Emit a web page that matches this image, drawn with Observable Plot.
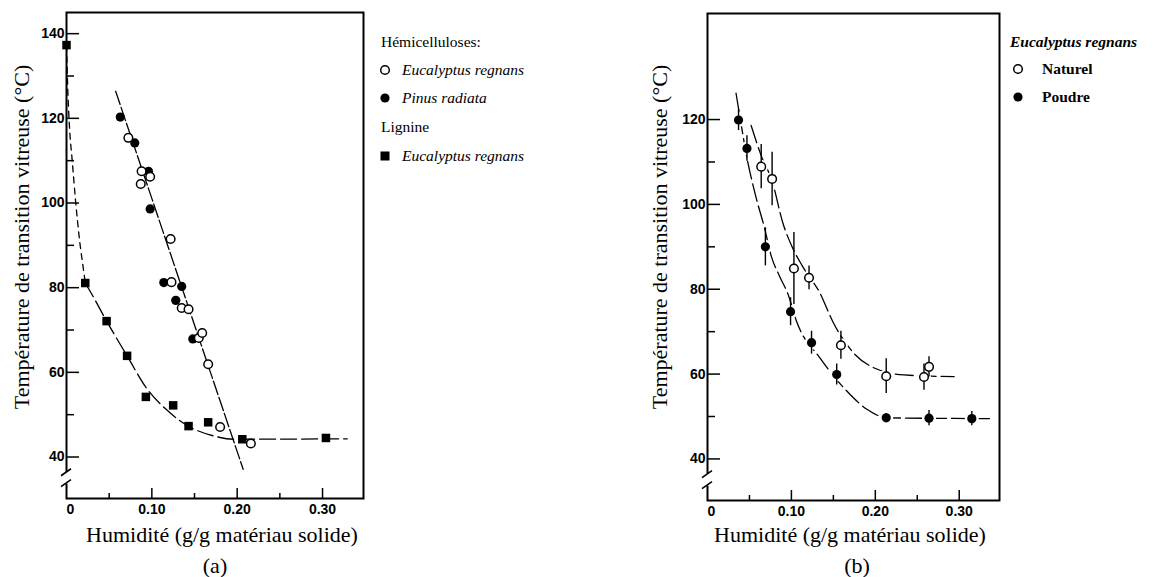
<!DOCTYPE html>
<html>
<head>
<meta charset="utf-8">
<script src="https://cdn.jsdelivr.net/npm/d3@7"></script>
<script src="https://cdn.jsdelivr.net/npm/@observablehq/plot@0.6"></script>
<style>
  html, body { margin: 0; padding: 0; background: #fff; }
  #root { position: relative; width: 1153px; height: 577px; overflow: hidden; background: #fff;
          font-family: "Liberation Serif", "DejaVu Serif", serif; color: #000; }
  .abs { position: absolute; white-space: nowrap; line-height: 1; font-family: "Liberation Serif", "DejaVu Serif", serif; font-weight: normal; }
  .plotbox { position: absolute; top: 0; }
</style>
</head>
<body>
<div id="root"></div>
<script>
// ---------------- DATA ----------------
// shared axes
const xDomain = [0, 0.348];
const yDomain = [30.2, 145];
const xMajorTicks = [0.1, 0.2, 0.3];
const xMinorTicks = [0.05, 0.15, 0.25];
const xTickLabels = [0.1, 0.2, 0.3];
const xZeroLabel = [0];
const yMajorTicksA = [40, 60, 80, 100, 120, 140];
const yMinorTicksA = [50, 70, 90, 110, 130];
const yMajorTicksB = [40, 60, 80, 100, 120];
const yMinorTicksB = [50, 70, 90, 110];
const axisBreak = [33.6, 36.4];

// panel (a) — hémicelluloses Eucalyptus regnans (open circles)
const hemiEucX = [0.0725, 0.087, 0.088, 0.098, 0.122, 0.123, 0.135, 0.143, 0.155, 0.159, 0.166, 0.180, 0.216];
const hemiEucY = [115.4, 104.5, 107.5, 106.2, 91.5, 81.3, 75.2, 74.9, 68.1, 69.3, 61.9, 47.1, 43.2];
// panel (a) — hémicelluloses Pinus radiata (filled circles)
const hemiPinX = [0.063, 0.080, 0.096, 0.098, 0.114, 0.128, 0.135, 0.148];
const hemiPinY = [120.3, 114.2, 107.5, 98.6, 81.2, 77.0, 80.3, 67.9];
// panel (a) — lignine Eucalyptus regnans (filled squares)
const ligX = [0.0, 0.022, 0.047, 0.071, 0.093, 0.125, 0.143, 0.166, 0.206, 0.304];
const ligY = [137.3, 81.1, 72.1, 63.9, 54.2, 52.2, 47.3, 48.2, 44.2, 44.5];
// panel (a) — guide lines
const hemiLineX = [0.0576, 0.207];
const hemiLineY = [126.4, 37.1];
const ligUpperX = [0.0, 0.0016, 0.0035, 0.0067, 0.0106, 0.0153, 0.020, 0.022];
const ligUpperY = [137.3, 126.2, 117.9, 110.0, 100.6, 91.2, 84.1, 81.1];
const ligLowerX = [0.022, 0.027, 0.047, 0.071, 0.094, 0.117, 0.141, 0.172, 0.196, 0.329];
const ligLowerY = [81.1, 79.4, 72.1, 63.9, 56.2, 51.2, 47.5, 45.0, 44.2, 44.3];

// panel (b) — Eucalyptus regnans, naturel (open) and poudre (filled), with error bars
const natX = [0.064, 0.077, 0.103, 0.121, 0.159, 0.213, 0.258, 0.264];
const natY = [108.9, 106.0, 84.9, 82.7, 66.8, 59.5, 59.3, 61.7];
const natErr = [5.2, 6.3, 8.5, 2.8, 3.3, 4.1, 3.1, 2.4];
const pouX = [0.037, 0.047, 0.069, 0.099, 0.124, 0.154, 0.213, 0.264, 0.315];
const pouY = [119.9, 113.2, 90.0, 74.7, 67.4, 59.9, 49.7, 49.6, 49.5];
const pouErr = [2.5, 3.0, 4.5, 3.3, 2.7, 2.5, 1.0, 1.8, 1.7];
// panel (b) — guide curves
const natCurveX = [0.052, 0.064, 0.077, 0.090, 0.102, 0.113, 0.134, 0.150, 0.174, 0.198, 0.234, 0.294];
const natCurveY = [118.6, 111.5, 105.5, 95.5, 89.5, 85.5, 79.1, 72.1, 65.0, 61.5, 59.8, 59.4];
const pouCurveX = [0.034, 0.040, 0.046, 0.057, 0.068, 0.076, 0.086, 0.096, 0.106, 0.134, 0.166, 0.190, 0.214, 0.336];
const pouCurveY = [126.2, 119.0, 112.0, 102.3, 94.4, 87.8, 83.0, 78.8, 72.5, 63.8, 56.0, 51.7, 49.7, 49.5];

// texts
const yTitle = "Température de transition vitreuse (°C)";
const xTitle = "Humidité (g/g matériau solide)";
const panelLabels = ["(a)", "(b)"];
const legendA = { head1: "Hémicelluloses:", s1: "Eucalyptus regnans", s2: "Pinus radiata", head2: "Lignine", s3: "Eucalyptus regnans" };
const legendB = { head: "Eucalyptus regnans", s1: "Naturel", s2: "Poudre" };

// ---------------- HELPERS ----------------
const zip = (xs, ys, es) => xs.map((x, i) => ({x, y: ys[i], e: es ? es[i] : 0}));
const root = document.getElementById("root");

function breakMark(vals) {
  return (index, scales, values, dims) => {
    const x0 = dims.marginLeft;
    const yHi = scales.y(vals[1]);
    const yLo = scales.y(vals[0]);
    const g = d3.create("svg:g");
    g.append("line").attr("x1", x0).attr("x2", x0).attr("y1", yHi).attr("y2", yLo)
      .attr("stroke", "white").attr("stroke-width", 6);
    g.append("line").attr("x1", x0 - 5).attr("y1", yHi + 4).attr("x2", x0 + 5).attr("y2", yHi - 3)
      .attr("stroke", "black").attr("stroke-width", 1.6);
    g.append("line").attr("x1", x0 - 5).attr("y1", yLo + 3).attr("x2", x0 + 5).attr("y2", yLo - 4)
      .attr("stroke", "black").attr("stroke-width", 1.6);
    return g.node();
  };
}

function axesMarks(innerW, innerH, yMajor, yMinor) {
  const fmt = d => d === 0 ? "0" : d.toFixed(2);
  return [
    Plot.tickY(yMajor, {y: d => d, insetRight: innerW - 13, strokeWidth: 1.5}),
    Plot.tickY(yMinor, {y: d => d, insetRight: innerW - 8, strokeWidth: 1.5}),
    Plot.tickX(xMajorTicks, {x: d => d, insetTop: innerH - 10, strokeWidth: 1.5}),
    Plot.tickX(xMinorTicks, {x: d => d, insetTop: innerH - 5, strokeWidth: 1.5}),
    Plot.frame({strokeWidth: 2}),
    breakMark(axisBreak),
    Plot.axisY(yMajor, {tickSize: 0, tickPadding: 2, label: null, fontSize: 14, fontWeight: "bold"}),
    Plot.axisX(xTickLabels, {tickSize: 0, tickPadding: 6, label: null, tickFormat: fmt, fontSize: 14, fontWeight: "bold"}),
    Plot.axisX(xZeroLabel, {tickSize: 0, tickPadding: 6, label: null, tickFormat: fmt, dx: 4, fontSize: 14, fontWeight: "bold"})
  ];
}

const plotStyle = {fontFamily: "'Liberation Sans', Arial, sans-serif", background: "transparent", overflow: "visible", color: "#000"};

// ---------------- PANEL (a) ----------------
{
  const W = 380, H = 577, mL = 66, mR = 17, mT = 12, mB = 79;
  const chart = Plot.plot({
    width: W, height: H, marginLeft: mL, marginRight: mR, marginTop: mT, marginBottom: mB,
    x: {domain: xDomain}, y: {domain: yDomain},
    style: plotStyle,
    marks: [
      Plot.line(zip(ligUpperX, ligUpperY), {x: "x", y: "y", curve: "monotone-x", stroke: "black", strokeWidth: 1.3, strokeDasharray: "6,5"}),
      Plot.line(zip(ligLowerX, ligLowerY), {x: "x", y: "y", curve: "monotone-x", stroke: "black", strokeWidth: 1.3, strokeDasharray: "16,5"}),
      Plot.line(zip(hemiLineX, hemiLineY), {x: "x", y: "y", stroke: "black", strokeWidth: 1.3, strokeDasharray: "14,3"}),
      Plot.dot(zip(ligX, ligY), {x: "x", y: "y", symbol: "square", r: 4.8, fill: "black"}),
      Plot.dot(zip(hemiPinX, hemiPinY), {x: "x", y: "y", r: 4.6, fill: "black"}),
      Plot.dot(zip(hemiEucX, hemiEucY), {x: "x", y: "y", r: 4.3, fill: "white", stroke: "black", strokeWidth: 1.5}),
      ...axesMarks(W - mL - mR, H - mT - mB, yMajorTicksA, yMinorTicksA)
    ]
  });
  const box = document.createElement("div");
  box.className = "plotbox"; box.style.left = "0px";
  box.appendChild(chart);
  root.appendChild(box);
}

// ---------------- PANEL (b) ----------------
{
  const W = 400, H = 577, mL = 87, mR = 21, mT = 13, mB = 77;
  const nat = zip(natX, natY, natErr), pou = zip(pouX, pouY, pouErr);
  const chart = Plot.plot({
    width: W, height: H, marginLeft: mL, marginRight: mR, marginTop: mT, marginBottom: mB,
    x: {domain: xDomain}, y: {domain: yDomain},
    style: plotStyle,
    marks: [
      Plot.line(zip(natCurveX, natCurveY), {x: "x", y: "y", curve: "monotone-x", stroke: "black", strokeWidth: 1.3, strokeDasharray: "18,5"}),
      Plot.line(zip(pouCurveX, pouCurveY), {x: "x", y: "y", curve: "monotone-x", stroke: "black", strokeWidth: 1.3, strokeDasharray: "18,5"}),
      Plot.dot(nat.concat(pou), {x: "x", y: "y", r: 7, fill: "white"}),
      Plot.ruleX(nat, {x: "x", y1: d => d.y - d.e, y2: d => d.y + d.e, stroke: "black", strokeWidth: 1.4}),
      Plot.ruleX(pou, {x: "x", y1: d => d.y - d.e, y2: d => d.y + d.e, stroke: "black", strokeWidth: 1.4}),
      Plot.dot(pou, {x: "x", y: "y", r: 4.6, fill: "black"}),
      Plot.dot(nat, {x: "x", y: "y", r: 4.3, fill: "white", stroke: "black", strokeWidth: 1.5}),
      ...axesMarks(W - mL - mR, H - mT - mB, yMajorTicksB, yMinorTicksB)
    ]
  });
  const box = document.createElement("div");
  box.className = "plotbox"; box.style.left = "620px";
  box.appendChild(chart);
  root.appendChild(box);
}

// ---------------- TEXTS ----------------
function addText(txt, {x, y, size = 22, align = "left", rotate = false, italic = false, bold = false}) {
  const d = document.createElement("div");
  d.className = "abs";
  d.textContent = txt;
  d.style.left = x + "px";
  d.style.top = y + "px";
  d.style.fontSize = size + "px";
  d.style.fontFamily = "'Liberation Serif', 'DejaVu Serif', serif";
  if (italic) d.style.fontStyle = "italic";
  if (bold) d.style.fontWeight = "bold";
  let tr = align === "center" ? "translate(-50%,-50%)" : "translate(0,-50%)";
  if (rotate) tr = "translate(-50%,-50%) rotate(-90deg)";
  d.style.transform = tr;
  root.appendChild(d);
}
function addMarker(kind, cx, cy) {
  const s = d3.create("svg").attr("width", 14).attr("height", 14)
    .style("position", "absolute").style("left", (cx - 7) + "px").style("top", (cy - 7) + "px");
  if (kind === "open") s.append("circle").attr("cx", 7).attr("cy", 7).attr("r", 4.3).attr("fill", "white").attr("stroke", "black").attr("stroke-width", 1.5);
  if (kind === "filled") s.append("circle").attr("cx", 7).attr("cy", 7).attr("r", 4.6).attr("fill", "black");
  if (kind === "square") s.append("rect").attr("x", 2.5).attr("y", 2.5).attr("width", 9).attr("height", 9).attr("fill", "black");
  root.appendChild(s.node());
}

// axis titles
addText(yTitle, {x: 22, y: 237, rotate: true});
addText(yTitle, {x: 660, y: 237, rotate: true});
addText(xTitle, {x: 222, y: 535, align: "center"});
addText(xTitle, {x: 850, y: 535, align: "center"});
addText(panelLabels[0], {x: 215, y: 566, align: "center"});
addText(panelLabels[1], {x: 857, y: 566, align: "center"});

// legend (a)
addText(legendA.head1, {x: 381, y: 42, size: 15.5});
addMarker("open", 385, 70);
addText(legendA.s1, {x: 402, y: 70, size: 15.5, italic: true});
addMarker("filled", 385, 98);
addText(legendA.s2, {x: 402, y: 98, size: 15.5, italic: true});
addText(legendA.head2, {x: 381, y: 127, size: 15.5});
addMarker("square", 385, 156);
addText(legendA.s3, {x: 402, y: 156, size: 15.5, italic: true});

// legend (b)
addText(legendB.head, {x: 1010, y: 42, size: 15.5, italic: true, bold: true});
addMarker("open", 1018, 69);
addText(legendB.s1, {x: 1042, y: 69, size: 15.5, bold: true});
addMarker("filled", 1018, 97);
addText(legendB.s2, {x: 1042, y: 97, size: 15.5, bold: true});
</script>
</body>
</html>
